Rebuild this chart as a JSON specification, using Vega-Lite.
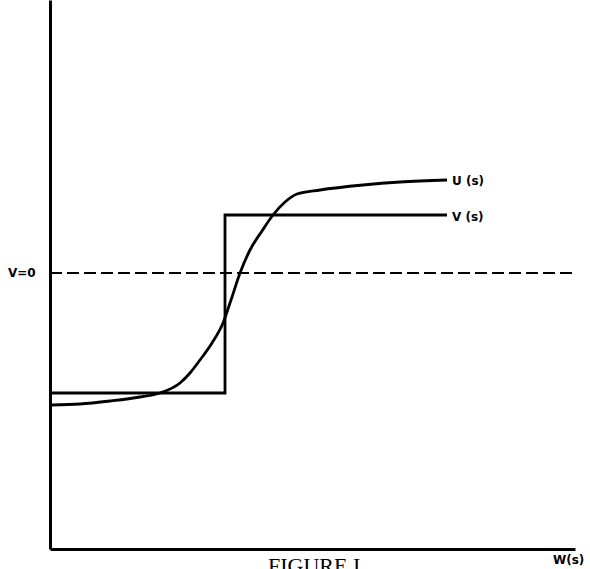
{
  "$schema": "https://vega.github.io/schema/vega-lite/v6.json",
  "width": 525,
  "height": 549,
  "autosize": "none",
  "padding": {"left": 50, "top": 0, "right": 15, "bottom": 20},
  "background": "white",
  "config": {"view": {"stroke": null}},
  "datasets": {
    "u": [
      {"x": 2, "y": 144}, {"x": 30, "y": 145}, {"x": 60, "y": 148}, {"x": 90, "y": 152},
      {"x": 110, "y": 156}, {"x": 130, "y": 166}, {"x": 140, "y": 176}, {"x": 150, "y": 189},
      {"x": 162, "y": 206}, {"x": 173, "y": 226}, {"x": 181, "y": 249}, {"x": 190, "y": 276},
      {"x": 200, "y": 299}, {"x": 212, "y": 318}, {"x": 223, "y": 334}, {"x": 235, "y": 347},
      {"x": 247, "y": 355}, {"x": 270, "y": 359}, {"x": 313, "y": 364}, {"x": 350, "y": 367},
      {"x": 397, "y": 369}
    ],
    "v": [
      {"x": 0, "y": 156, "o": 1}, {"x": 175, "y": 156, "o": 2},
      {"x": 175, "y": 334, "o": 3}, {"x": 397, "y": 334, "o": 4}
    ],
    "zero": [{"x": 0, "y": 276}, {"x": 523, "y": 276}],
    "labels": [
      {"x": 402, "y": 368, "t": "U (s)"},
      {"x": 402, "y": 332, "t": "V (s)"},
      {"x": -42, "y": 276, "t": "V=0"},
      {"x": 503, "y": -11, "t": "W(s)"}
    ],
    "caption": [{"x": 218, "y": -7, "t": "FIGURE I"}]
  },
  "layer": [
    {
      "data": {"name": "zero"},
      "mark": {"type": "line", "color": "black", "strokeWidth": 2, "strokeDash": [12, 5]},
      "encoding": {
        "x": {"field": "x", "type": "quantitative", "scale": {"domain": [0, 525], "nice": false, "zero": false},
          "axis": {"title": null, "labels": false, "ticks": false, "grid": false, "domainColor": "black", "domainWidth": 3}},
        "y": {"field": "y", "type": "quantitative", "scale": {"domain": [0, 549], "nice": false, "zero": false},
          "axis": {"title": null, "labels": false, "ticks": false, "grid": false, "domainColor": "black", "domainWidth": 3}}
      }
    },
    {
      "data": {"name": "v"},
      "mark": {"type": "line", "color": "black", "strokeWidth": 2.8, "strokeJoin": "miter"},
      "encoding": {
        "x": {"field": "x", "type": "quantitative"},
        "y": {"field": "y", "type": "quantitative"},
        "order": {"field": "o"}
      }
    },
    {
      "data": {"name": "u"},
      "mark": {"type": "line", "color": "black", "strokeWidth": 2.8, "interpolate": "monotone"},
      "encoding": {
        "x": {"field": "x", "type": "quantitative"},
        "y": {"field": "y", "type": "quantitative"}
      }
    },
    {
      "data": {"name": "labels"},
      "mark": {"type": "text", "font": "DejaVu Sans", "fontSize": 12, "fontWeight": "bold", "baseline": "middle", "align": "left", "color": "black"},
      "encoding": {
        "x": {"field": "x", "type": "quantitative"},
        "y": {"field": "y", "type": "quantitative"},
        "text": {"field": "t"}
      }
    },
    {
      "data": {"name": "caption"},
      "mark": {"type": "text", "font": "Liberation Serif", "fontSize": 22, "baseline": "top", "align": "left", "color": "black"},
      "encoding": {
        "x": {"field": "x", "type": "quantitative"},
        "y": {"field": "y", "type": "quantitative"},
        "text": {"field": "t"}
      }
    }
  ]
}
